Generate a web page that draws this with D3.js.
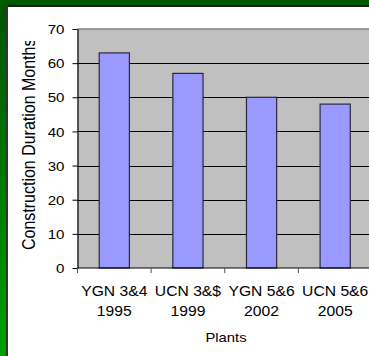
<!DOCTYPE html>
<html>
<head>
<meta charset="utf-8">
<script src="https://cdn.jsdelivr.net/npm/d3@7"></script>
<style>
  html, body { margin: 0; padding: 0; background: #fff; }
  svg { display: block; }
  text { font-family: Arial, "Liberation Sans", sans-serif; fill: #000; }
</style>
</head>
<body>
<script>
// Construction duration by plant
const plants = ["YGN 3&4", "UCN 3&$", "YGN 5&6", "UCN 5&6"];
const years = ["1995", "1999", "2002", "2005"];
const months = [63, 57, 50, 48];
const yTicks = [0, 10, 20, 30, 40, 50, 60, 70];

const W = 369, H = 356;
const plot = { left: 77.5, right: 372, top: 29, bottom: 268 };

const svg = d3.select("body").append("svg")
  .attr("width", W).attr("height", H);

// Frame: green border with a darker top and a brighter lower left edge
const defs = svg.append("defs");
const grad = defs.append("linearGradient")
  .attr("id", "frameGrad").attr("x1", 0).attr("y1", 0).attr("x2", 0).attr("y2", 1);
grad.append("stop").attr("offset", "0%").attr("stop-color", "#005300");
grad.append("stop").attr("offset", "100%").attr("stop-color", "#00a000");
svg.append("rect").attr("width", W).attr("height", H).attr("fill", "url(#frameGrad)");
svg.append("rect").attr("x", 0).attr("y", 0).attr("width", W).attr("height", 6).attr("fill", "#005800");
svg.append("rect").attr("x", 6).attr("y", 5).attr("width", W - 6).attr("height", 2).attr("fill", "#1c1c1c");
svg.append("rect").attr("x", 6).attr("y", 5).attr("width", 2).attr("height", H - 5).attr("fill", "#333");
svg.append("rect").attr("x", 8).attr("y", 7).attr("width", W - 8).attr("height", H - 7).attr("fill", "#fff");

// Scales
const x = d3.scaleBand()
  .domain(plants)
  .range([plot.left, plot.right])
  .paddingInner(0.59)
  .paddingOuter(0.295);

const y = d3.scaleLinear().domain([0, 70]).range([plot.bottom, plot.top]);

// Plot area
svg.append("rect")
  .attr("x", plot.left).attr("y", plot.top)
  .attr("width", plot.right - plot.left).attr("height", plot.bottom - plot.top)
  .attr("fill", "#c0c0c0");

// Top border of the plot area
svg.append("line")
  .attr("x1", plot.left).attr("x2", plot.right)
  .attr("y1", y(70)).attr("y2", y(70))
  .attr("stroke", "#808080").attr("stroke-width", 1.5);

// Horizontal gridlines
svg.append("g").selectAll("line")
  .data(yTicks.filter(d => d > 0 && d < 70))
  .join("line")
  .attr("x1", plot.left).attr("x2", plot.right)
  .attr("y1", d => Math.round(y(d)) + 0.5).attr("y2", d => Math.round(y(d)) + 0.5)
  .attr("stroke", "#000").attr("stroke-width", 1);

// Bars
svg.append("g").selectAll("rect")
  .data(plants)
  .join("rect")
  .attr("x", d => x(d))
  .attr("y", (d, i) => y(months[i]))
  .attr("width", x.bandwidth())
  .attr("height", (d, i) => y(0) - y(months[i]))
  .attr("fill", "#9999ff")
  .attr("stroke", "#2a2a3a")
  .attr("stroke-width", 1.2);

// Y axis
const yAxis = svg.append("g")
  .attr("transform", `translate(${plot.left},0)`)
  .call(d3.axisLeft(y).tickValues(yTicks).tickSize(5).tickSizeOuter(0).tickPadding(9));
yAxis.select(".domain").attr("stroke", "#000").attr("stroke-width", 1.2);
yAxis.selectAll(".tick line").attr("stroke", "#000");
yAxis.selectAll(".tick text")
  .attr("font-size", 12.8)
  .attr("text-anchor", "end")
  .attr("dy", "0.36em")
  .attr("transform", "scale(1.18,1)")
  .attr("x", -13 / 1.18);

// X axis: tick marks at category boundaries
const boundaries = [plot.left].concat(plants.map(p => x(p) + x.bandwidth() + x.step() * 0.295));
svg.append("line")
  .attr("x1", plot.left).attr("x2", W)
  .attr("y1", plot.bottom).attr("y2", plot.bottom)
  .attr("stroke", "#000").attr("stroke-width", 1.2);
svg.append("g").selectAll("line")
  .data(boundaries)
  .join("line")
  .attr("x1", d => d).attr("x2", d => d)
  .attr("y1", plot.bottom).attr("y2", plot.bottom + 5)
  .attr("stroke", "#555").attr("stroke-width", 1);

// Category labels
const cat = svg.append("g").selectAll("g")
  .data(plants)
  .join("g")
  .attr("transform", d => `translate(${x(d) + x.bandwidth() / 2},0) scale(1.12,1)`);
cat.append("text")
  .attr("y", 296)
  .attr("text-anchor", "middle")
  .attr("font-size", 14)
  .text(d => d);
cat.append("text")
  .attr("y", 316)
  .attr("text-anchor", "middle")
  .attr("font-size", 14)
  .text((d, i) => years[i]);

// Axis titles
svg.append("text")
  .attr("transform", "translate(226,342) scale(1.12,1)")
  .attr("text-anchor", "middle")
  .attr("font-size", 13.2)
  .text("Plants");

defs.append("clipPath").attr("id", "ylabClip")
  .append("rect").attr("x", 8).attr("y", 41).attr("width", 60).attr("height", 300);
svg.append("g").attr("clip-path", "url(#ylabClip)")
  .append("text")
  .attr("transform", "translate(35,250) rotate(-90) scale(1,1.1)")
  .attr("text-anchor", "start")
  .attr("font-size", 16.0)
  .text("Construction Duration Months");
</script>
</body>
</html>
